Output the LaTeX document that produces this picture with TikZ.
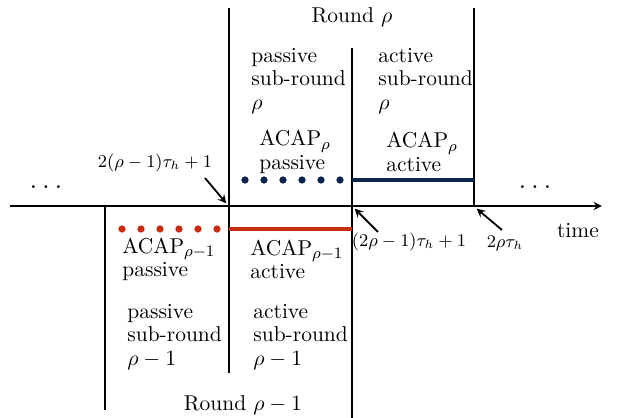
\documentclass[tikz,border=0pt]{standalone}
\usepackage{amsmath, amssymb}
\usepackage{xcolor}
\usepackage{tikz}
\definecolor{acapblue}{RGB}{10,36,80}
\definecolor{acapred}{RGB}{200,45,15}
\tikzset{
    border/.style={line width=0.9pt},
    acapline/.style={line width=2.3pt},
    bluedot/.style={circle, fill=acapblue, inner sep=1.3pt, outer sep=0pt},
    reddot/.style={circle, fill=acapred, inner sep=1.3pt, outer sep=0pt},
    phaselabel/.style={align=left, anchor=west, inner sep=0pt},
    instant/.style={font=\fontsize{8.6}{10}\selectfont}
}

\begin{document}
\begin{tikzpicture}[scale=0.884, >=stealth, font=\fontsize{10.8}{11.8}\selectfont]
    \useasboundingbox (-4.58,-4.24) rectangle (7.86,4.12);

    % time axis
    \coordinate (start) at (-4.38,0);
    \coordinate (end) at (7.46,0);
    \draw[border, ->] (start) -- (end);
    \node (time) at (6.98,-0.50) {time};

    % instants on the axis
    \coordinate (t1) at (0,0);
    \coordinate (t2) at (2.46,0);
    \coordinate (t3) at (4.90,0);

    % borders of round rho (above the axis)
    \coordinate (u1) at (0,3.96);
    \coordinate (u2) at (2.46,3.16);
    \coordinate (u3) at (4.90,3.96);

    % borders of round rho-1 (below the axis)
    \coordinate (d0) at (-2.48,0);
    \coordinate (d0b) at (-2.48,-4.08);
    \coordinate (d1) at (0,-3.34);
    \coordinate (d2) at (2.46,-4.24);

    \draw[border] (u1) -- (d1);
    \draw[border] (u2) -- (d2);
    \draw[border] (u3) -- (t3);
    \draw[border] (d0) -- (d0b);

    % ACAP lines
    \foreach \x in {0.32,0.70,1.08,1.46,1.84,2.22}
        \node[bluedot] at (\x,0.52) {};
    \draw[acapline, acapblue] (2.46,0.52) -- (4.90,0.52);
    \foreach \x in {-2.14,-1.76,-1.38,-1.00,-0.62,-0.24}
        \node[reddot] at (\x,-0.46) {};
    \draw[acapline, acapred] (0,-0.46) -- (2.46,-0.46);

    % dots before and after
    \node (lmore) at (-3.66,0.38) {\Large$\ldots$};
    \node (rmore) at (6.12,0.38) {\Large$\ldots$};

    % labels above
    \node (round) at (2.46,3.78) {Round $\rho$};
    \node[phaselabel] (psub) at (0.44,2.50) {passive\\sub-round\\$\rho$};
    \node[phaselabel] (asub) at (2.98,2.50) {active\\sub-round\\$\rho$};
    \node[phaselabel] (pacap) at (0.60,1.08) {ACAP$_\rho$\\passive};
    \node[phaselabel] (aacap) at (3.14,1.08) {ACAP$_\rho$\\active};

    % labels below
    \node[phaselabel] (pacapm) at (-2.14,-1.07) {ACAP$_{\rho-1}$\\passive};
    \node[phaselabel] (aacapm) at (0.42,-1.07) {ACAP$_{\rho-1}$\\active};
    \node[phaselabel] (psubm) at (-2.04,-2.62) {passive\\sub-round\\$\rho-1$};
    \node[phaselabel] (asubm) at (0.48,-2.62) {active\\sub-round\\$\rho-1$};
    \node (roundm) at (0.28,-3.98) {Round $\rho-1$};

    % instant labels and their arrows
    \node[instant] (lab1) at (-1.48,0.86) {$2(\rho-1)\tau_h+1$};
    \node[instant] (lab2) at (3.60,-0.72) {$(2\rho-1)\tau_h+1$};
    \node[instant] (lab3) at (5.52,-0.74) {$2\rho\tau_h$};
    \coordinate (s1) at (-0.48,0.56);
    \coordinate (s2) at (2.98,-0.52);
    \coordinate (s3) at (5.46,-0.48);
    \draw[border, ->] (s1) -- ([shift={(-1.5pt,1.5pt)}]t1);
    \draw[border, ->] (s2) -- ([shift={(1.5pt,-1.5pt)}]t2);
    \draw[border, ->] (s3) -- ([shift={(1.5pt,-1.5pt)}]t3);
\end{tikzpicture}
\end{document}
